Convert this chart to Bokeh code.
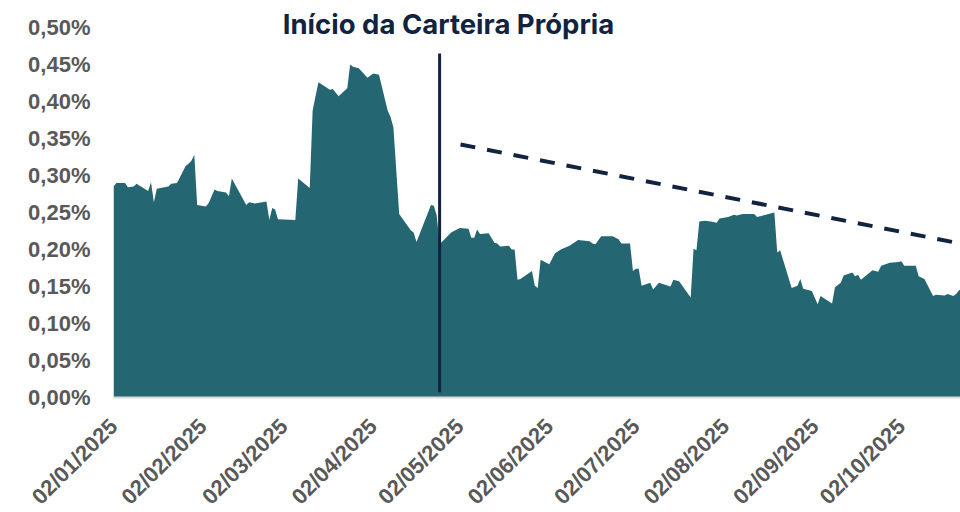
import math
import pandas as pd
from bokeh.plotting import figure
from bokeh.models import (ColumnDataSource, Range1d, FixedTicker, DatetimeTickFormatter,
                          CustomJSTickFormatter, Label)
from bokeh.embed import file_html
from bokeh.resources import INLINE

# ---- data (values in %) ----
dates = [
    "2025-01-02", "2025-01-03", "2025-01-06", "2025-01-07", "2025-01-09", "2025-01-10",
    "2025-01-14", "2025-01-15", "2025-01-16", "2025-01-17", "2025-01-21", "2025-01-22",
    "2025-01-24", "2025-01-27", "2025-01-28", "2025-01-29", "2025-01-30", "2025-01-31",
    "2025-02-03", "2025-02-04", "2025-02-06", "2025-02-07", "2025-02-10", "2025-02-11",
    "2025-02-12", "2025-02-17", "2025-02-18", "2025-02-20", "2025-02-24", "2025-02-25",
    "2025-02-26", "2025-02-27", "2025-02-28", "2025-03-06", "2025-03-07", "2025-03-11",
    "2025-03-12", "2025-03-14", "2025-03-18", "2025-03-19", "2025-03-21", "2025-03-24",
    "2025-03-25", "2025-03-26", "2025-03-28", "2025-03-31", "2025-04-02", "2025-04-04",
    "2025-04-07", "2025-04-08", "2025-04-09", "2025-04-11", "2025-04-15", "2025-04-16",
    "2025-04-17", "2025-04-22", "2025-04-23", "2025-04-24", "2025-04-25", "2025-04-29",
    "2025-04-30", "2025-05-02", "2025-05-05", "2025-05-06", "2025-05-07", "2025-05-08",
    "2025-05-09", "2025-05-12", "2025-05-14", "2025-05-15", "2025-05-16", "2025-05-19",
    "2025-05-20", "2025-05-21", "2025-05-22", "2025-05-23", "2025-05-27", "2025-05-28",
    "2025-05-29", "2025-05-30", "2025-06-02", "2025-06-04", "2025-06-06", "2025-06-09",
    "2025-06-12", "2025-06-16", "2025-06-17", "2025-06-18", "2025-06-20", "2025-06-24",
    "2025-06-26", "2025-06-27", "2025-06-30", "2025-07-01", "2025-07-02", "2025-07-03",
    "2025-07-04", "2025-07-07", "2025-07-08", "2025-07-10", "2025-07-14", "2025-07-15",
    "2025-07-17", "2025-07-21", "2025-07-22", "2025-07-23", "2025-07-24", "2025-07-26",
    "2025-07-28", "2025-07-30", "2025-07-31", "2025-08-03", "2025-08-05", "2025-08-06",
    "2025-08-08", "2025-08-12", "2025-08-13", "2025-08-19", "2025-08-20", "2025-08-21",
    "2025-08-25", "2025-08-27", "2025-08-28", "2025-08-29", "2025-09-01", "2025-09-03",
    "2025-09-04", "2025-09-08", "2025-09-09", "2025-09-11", "2025-09-12", "2025-09-15",
    "2025-09-16", "2025-09-17", "2025-09-18", "2025-09-22", "2025-09-24", "2025-09-25",
    "2025-09-28", "2025-10-01", "2025-10-02", "2025-10-03", "2025-10-07", "2025-10-08",
    "2025-10-10", "2025-10-13", "2025-10-14", "2025-10-17", "2025-10-18", "2025-10-20",
    "2025-10-21", "2025-10-22", "2025-10-23",
]
values = [
    0.285, 0.290, 0.290, 0.284, 0.285, 0.289,
    0.279, 0.291, 0.264, 0.282, 0.285, 0.289,
    0.290, 0.313, 0.316, 0.320, 0.328, 0.260,
    0.258, 0.263, 0.281, 0.279, 0.277, 0.272,
    0.296, 0.260, 0.264, 0.262, 0.265, 0.240,
    0.256, 0.254, 0.241, 0.240, 0.296, 0.283,
    0.388, 0.426, 0.416, 0.417, 0.407, 0.418,
    0.450, 0.447, 0.445, 0.432, 0.438, 0.436,
    0.388, 0.379, 0.365, 0.248, 0.226, 0.223,
    0.210, 0.260, 0.259, 0.246, 0.207, 0.223,
    0.225, 0.229, 0.228, 0.216, 0.216, 0.227,
    0.221, 0.222, 0.209, 0.208, 0.204, 0.205,
    0.200, 0.200, 0.159, 0.160, 0.171, 0.151,
    0.148, 0.186, 0.180, 0.195, 0.200, 0.205,
    0.213, 0.211, 0.208, 0.207, 0.218, 0.218,
    0.214, 0.208, 0.208, 0.171, 0.174, 0.174,
    0.151, 0.155, 0.146, 0.155, 0.150, 0.159,
    0.157, 0.135, 0.201, 0.199, 0.238, 0.239,
    0.238, 0.236, 0.242, 0.244, 0.247, 0.246,
    0.248, 0.248, 0.244, 0.250, 0.196, 0.199,
    0.148, 0.151, 0.160, 0.147, 0.144, 0.126,
    0.137, 0.127, 0.149, 0.155, 0.165, 0.169,
    0.164, 0.166, 0.159, 0.172, 0.170, 0.178,
    0.182, 0.183, 0.184, 0.178, 0.178, 0.164,
    0.160, 0.137, 0.139, 0.138, 0.140, 0.137,
    0.140, 0.145, 0.146,
]

tick_dates = ["2025-01-02", "2025-02-02", "2025-03-02", "2025-04-02", "2025-05-02",
              "2025-06-02", "2025-07-02", "2025-08-02", "2025-09-02", "2025-10-02"]
y_ticks = [0.0, 0.05, 0.10, 0.15, 0.20, 0.25, 0.30, 0.35, 0.40, 0.45, 0.50]

event_date = "2025-04-25"
event_span = [0.007, 0.465]
event_label = "Início da Carteira Própria"

trend_dates = ["2025-05-02 06:00", "2025-10-22 12:00"]
trend_values = [0.342, 0.208]

x_start, x_end = "2025-01-02", "2025-10-22 12:00"
y_top = 0.5365

# ---- styling ----
FILL = "#256673"
NAVY = "#12233f"
GRAY = "#595959"
FONT = "Liberation Sans"

src = ColumnDataSource(dict(date=pd.to_datetime(dates), value=values))

p = figure(frame_width=847, frame_height=397, x_axis_type="datetime", output_backend="svg",
           toolbar_location=None,
           x_range=Range1d(pd.Timestamp(x_start), pd.Timestamp(x_end)),
           y_range=Range1d(0, y_top),
           min_border_left=113, min_border_right=0, min_border_top=0,
           min_border_bottom=100)
p.outline_line_color = None
p.xgrid.visible = False
p.ygrid.visible = False
p.background_fill_color = "white"
p.border_fill_color = "white"

p.varea(x="date", y1=0, y2="value", source=src, fill_color=FILL, fill_alpha=1.0)

# vertical event line
ev = pd.Timestamp(event_date)
p.line(x=[ev, ev], y=event_span, line_color=NAVY, line_width=3)

# dashed trend line
p.line(x=pd.to_datetime(trend_dates), y=trend_values, line_color=NAVY, line_width=4,
       line_dash="15 12")

p.add_layout(Label(x=335, y=374, x_units="screen", y_units="screen", text=event_label,
                   text_align="center", text_baseline="alphabetic",
                   text_font="Inter", text_font_style="bold", text_font_size="27.5px",
                   text_color=NAVY))

# y axis
yax = p.yaxis[0]
yax.ticker = FixedTicker(ticks=y_ticks)
yax.formatter = CustomJSTickFormatter(code="return tick.toFixed(2).replace('.', ',') + '%';")
yax.axis_line_color = None
yax.major_tick_line_color = None
yax.minor_tick_line_color = None
yax.major_tick_out = 0
yax.major_tick_in = 0
yax.major_label_standoff = 23
yax.major_label_text_font = FONT
yax.major_label_text_font_style = "bold"
yax.major_label_text_font_size = "22px"
yax.major_label_text_color = GRAY

# x axis
xax = p.xaxis[0]
tick_ms = [int(pd.Timestamp(d).value // 10**6) for d in tick_dates]
xax.ticker = FixedTicker(ticks=tick_ms)
fmt = "%d/%m/%Y"
xax.formatter = DatetimeTickFormatter(microseconds=fmt, milliseconds=fmt, seconds=fmt,
                                      minsec=fmt, minutes=fmt, hourmin=fmt, hours=fmt,
                                      days=fmt, months=fmt, years=fmt)
xax.axis_line_color = "#d9d9d9"
xax.axis_line_width = 2
xax.major_tick_line_color = None
xax.minor_tick_line_color = None
xax.major_tick_out = 0
xax.major_tick_in = 0
xax.major_label_orientation = math.pi / 4
xax.major_label_standoff = 25
xax.major_label_text_font = FONT
xax.major_label_text_font_style = "bold"
xax.major_label_text_font_size = "22px"
xax.major_label_text_color = GRAY

open("out.html", "w").write(file_html(p, INLINE))
